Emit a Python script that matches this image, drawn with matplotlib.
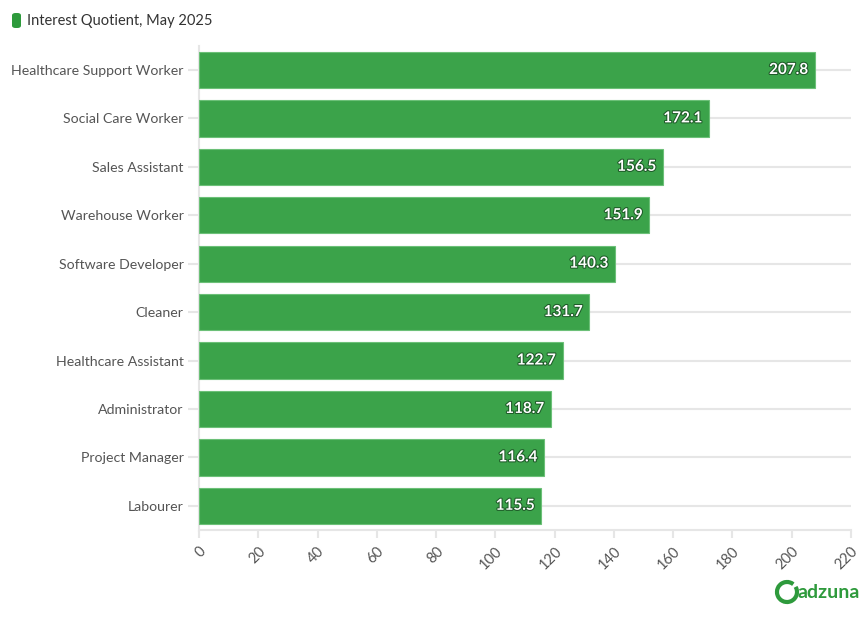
import matplotlib
matplotlib.use("Agg")
import matplotlib.pyplot as plt
import matplotlib.patheffects as pe
from matplotlib.patches import FancyBboxPatch, Arc

plt.rcParams['font.family'] = ['Lato', 'DejaVu Sans']

# Data
jobs = ["Healthcare Support Worker", "Social Care Worker", "Sales Assistant",
        "Warehouse Worker", "Software Developer", "Cleaner",
        "Healthcare Assistant", "Administrator", "Project Manager", "Labourer"]
values = [207.8, 172.1, 156.5, 151.9, 140.3, 131.7, 122.7, 118.7, 116.4, 115.5]
xticks = [0, 20, 40, 60, 80, 100, 120, 140, 160, 180, 200, 220]

green = "#3ba34a"
grid = "#e6e6e6"
W, H = 868, 619

fig = plt.figure(figsize=(W / 100, H / 100), dpi=100)
ax = fig.add_axes([199 / W, 1 - 530 / H, (851 - 199) / W, (530 - 45.75) / H])

ypos = list(range(len(jobs)))
ax.barh(ypos, values, height=0.75, color=green, edgecolor="#6cc078",
        linewidth=0.8, zorder=3)
for y in ypos:
    ax.plot([0, 220], [y, y], color=grid, lw=1.5, zorder=1)

for y, v in zip(ypos, values):
    ax.text(v - 2.2, y, f"{v:.1f}", ha="right", va="center", color="white",
            fontsize=11, fontweight="bold", zorder=4,
            path_effects=[pe.withStroke(linewidth=1.5, foreground="#1e5a28")])

ax.set_xlim(0, 220)
ax.set_ylim(len(jobs) - 0.5, -0.5)
ax.set_yticks(ypos)
ax.set_yticklabels(jobs)
ax.set_xticks(xticks)
ax.set_xticklabels([str(t) for t in xticks], rotation=45, ha="right",
                   rotation_mode="anchor")

for s in ["top", "right"]:
    ax.spines[s].set_visible(False)
ax.spines["left"].set_color(grid)
ax.spines["left"].set_linewidth(1.5)
ax.spines["bottom"].set_color(grid)
ax.spines["bottom"].set_linewidth(1.5)
ax.tick_params(axis="y", length=8, color=grid, width=1.5, labelsize=10.2,
               labelcolor="#555555", pad=3)
ax.tick_params(axis="x", length=6, color=grid, width=1.5, labelsize=10.5,
               labelcolor="#555555", pad=4)

# legend-like title
fig.patches.append(FancyBboxPatch((12 / W, 1 - 28 / H), 9 / W, 15 / H,
                                  boxstyle="round,pad=0,rounding_size=0.004",
                                  transform=fig.transFigure, facecolor="#2e9a3c",
                                  edgecolor="none"))
fig.text(27 / W, 1 - 21 / H, "Interest Quotient, May 2025", fontsize=10.5,
         color="#333333", va="center", ha="left")

# logo
fig.patches.append(Arc((787 / W, 1 - 592 / H), 20 / W, 20 / H, theta1=60,
                       theta2=400, transform=fig.transFigure, color="#2e9a3c",
                       lw=3))
fig.text(798 / W, 1 - 592 / H, "adzuna", fontsize=14, fontweight="bold",
         color="#2e9a3c", va="center", ha="left")

fig.savefig("out.png", dpi=100)
